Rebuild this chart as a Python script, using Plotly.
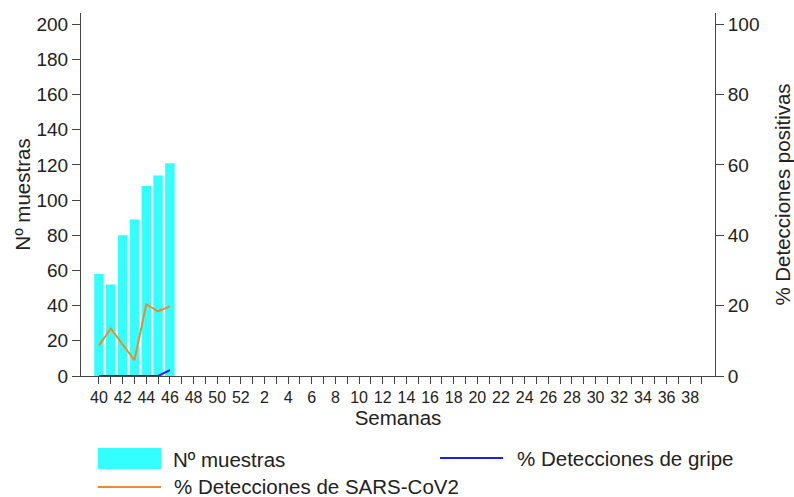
import plotly.graph_objects as go

# Season weeks 40..52, then 1..39
weeks = list(range(40, 53)) + list(range(1, 40))
week_labels = [str(w) for w in weeks]

# Nº muestras (weeks 40-46)
muestras = [58, 52, 80, 89, 108, 114, 121]
# % positive detections, weeks 40-46
pct_gripe = [0, 0, 0, 0, 0, 0, 1.7]
pct_sars = [8.7, 13.5, 9.0, 4.5, 20.4, 18.4, 19.8]

x_obs = week_labels[:len(muestras)]

CYAN = "#33FFFF"
ORANGE = "#EE8A2A"
BLUE = "#1E1EF0"
TXT = "#222222"
AXC = "#444444"
FONT = "Liberation Sans, Arial, sans-serif"

fig = go.Figure()
fig.add_trace(go.Bar(x=x_obs, y=muestras, marker=dict(color=CYAN, line=dict(width=0)),
                     width=0.8, name="Nº muestras", showlegend=False))
fig.add_trace(go.Scatter(x=x_obs, y=pct_gripe, mode="lines", yaxis="y2",
                         line=dict(color=BLUE, width=2), name="% Detecciones de gripe",
                         showlegend=False))
fig.add_trace(go.Scatter(x=x_obs, y=pct_sars, mode="lines", yaxis="y2",
                         line=dict(color=ORANGE, width=2),
                         name="% Detecciones de SARS-CoV2", showlegend=False))

# plot area in pixels: x 81..715, y 13..376
def px(x):
    return (x - 81) / 634

def py(y):
    return (376 - y) / 363

shapes = [
    dict(type="rect", xref="paper", yref="paper", x0=px(97.7), x1=px(161),
         y0=py(469), y1=py(448), fillcolor=CYAN, line=dict(width=0)),
    dict(type="line", xref="paper", yref="paper", x0=px(97.7), x1=px(161),
         y0=py(487), y1=py(487), line=dict(color=ORANGE, width=2)),
    dict(type="line", xref="paper", yref="paper", x0=px(440), x1=px(503),
         y0=py(458), y1=py(458), line=dict(color=BLUE, width=2)),
]
legend_txt = [("Nº muestras", 171, 459), ("% Detecciones de SARS-CoV2", 172, 486.5),
              ("% Detecciones de gripe", 515, 458)]
annotations = [dict(text=t, xref="paper", yref="paper", x=px(x), y=py(y),
                    xanchor="left", yanchor="middle", showarrow=False,
                    font=dict(size=20.5, color=TXT, family=FONT))
               for t, x, y in legend_txt]

fig.update_layout(
    width=794, height=497, autosize=False,
    margin=dict(l=81, r=79, t=13, b=121, autoexpand=False),
    plot_bgcolor="white", paper_bgcolor="white",
    font=dict(family=FONT, color=TXT),
    xaxis=dict(type="category", categoryorder="array", categoryarray=week_labels,
               range=[-1.52, 52.1], tickmode="array", tickvals=week_labels,
               ticktext=[l if int(l) % 2 == 0 else "" for l in week_labels],
               ticks="outside", ticklen=7, tickcolor=AXC, showline=True,
               linecolor=AXC, linewidth=1, showgrid=False, zeroline=False,
               tickfont=dict(size=16, color=TXT), tickangle=0,
               title=dict(text="Semanas", font=dict(size=20.5, color=TXT), standoff=2)),
    yaxis=dict(range=[0, 206.4], tickvals=list(range(0, 201, 20)), ticks="outside",
               ticklen=8, tickcolor=AXC, showline=True, linecolor=AXC, linewidth=1,
               showgrid=False, zeroline=False, tickfont=dict(size=19, color=TXT),
               title=dict(text="Nº muestras", font=dict(size=20.5, color=TXT), standoff=0)),
    yaxis2=dict(range=[0, 103.2], tickvals=list(range(0, 101, 20)), overlaying="y",
                side="right", ticks="outside", ticklen=8, tickcolor=AXC, showline=True,
                linecolor=AXC, linewidth=1, showgrid=False, zeroline=False,
                tickfont=dict(size=19, color=TXT),
                title=dict(text="% Detecciones positivas", font=dict(size=20.5, color=TXT),
                           standoff=18)),
    shapes=shapes, annotations=annotations,
)

# drop the browser's default 8px body margin so the figure sits at the page corner
fig.write_html("out.html", config={"displayModeBar": False},
               post_script="document.body.style.margin='0';")
